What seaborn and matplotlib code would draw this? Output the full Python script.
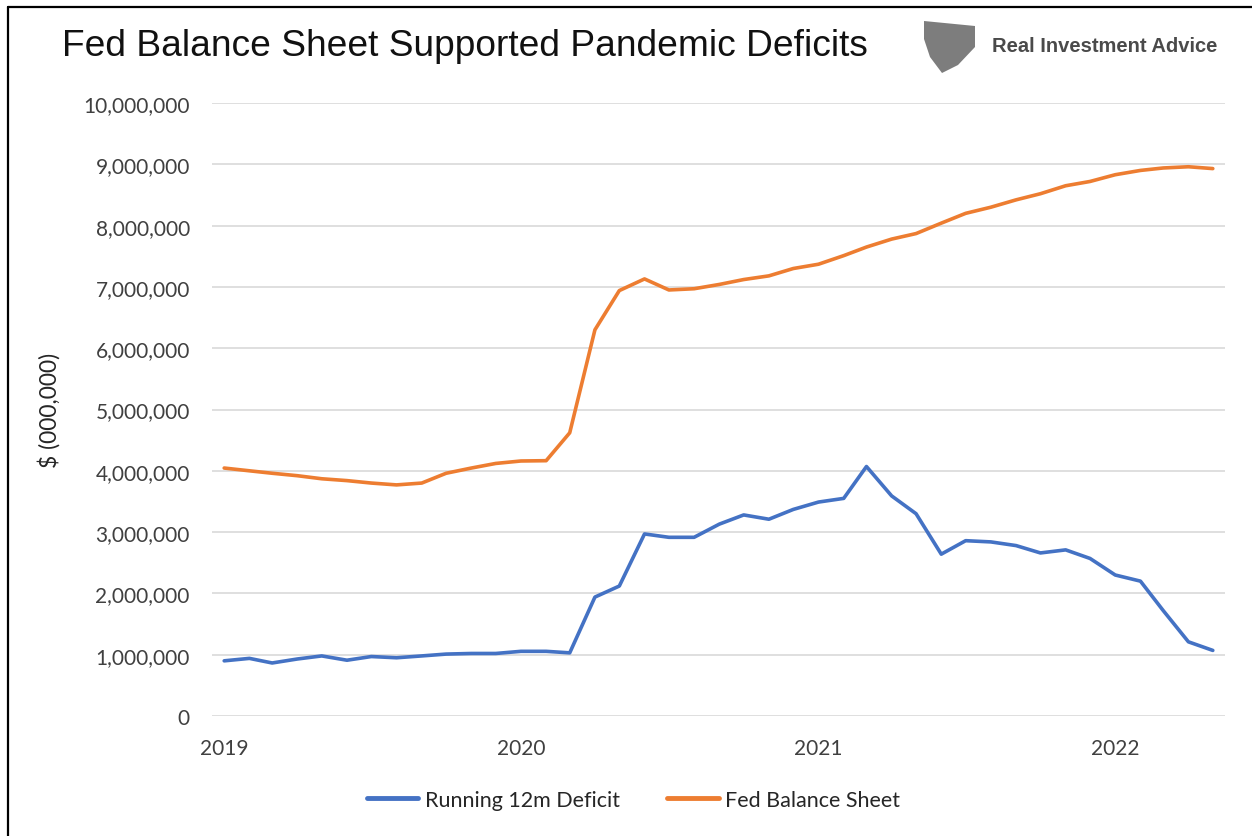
import numpy as np
import pandas as pd
import matplotlib.pyplot as plt
import matplotlib.ticker as mticker
import matplotlib.dates as mdates
from matplotlib.lines import Line2D
from matplotlib.patches import Polygon
import seaborn as sns

months = pd.date_range('2019-01-01', periods=41, freq='MS')

deficit = [0.90, 0.94, 0.865, 0.93, 0.98, 0.91, 0.97, 0.95, 0.98, 1.01, 1.02, 1.02,
           1.055, 1.055, 1.03, 1.94, 2.12, 2.97, 2.915, 2.915, 3.13, 3.28, 3.21, 3.37,
           3.49, 3.55, 4.07, 3.59, 3.30, 2.64, 2.86, 2.84, 2.78, 2.66, 2.71, 2.57,
           2.30, 2.20, 1.72, 1.21, 1.07]
balance = [4.045, 4.00, 3.96, 3.92, 3.87, 3.84, 3.80, 3.77, 3.80, 3.96, 4.045, 4.12,
           4.16, 4.165, 4.62, 6.30, 6.94, 7.13, 6.95, 6.97, 7.04, 7.12, 7.18, 7.30,
           7.37, 7.51, 7.65, 7.78, 7.87, 8.04, 8.20, 8.30, 8.42, 8.52, 8.65, 8.72,
           8.83, 8.90, 8.94, 8.96, 8.93]

series_names = ['Running 12m Deficit', 'Fed Balance Sheet']
colors = ['#4472C4', '#ED7D31']

df = pd.DataFrame({'date': months,
                   series_names[0]: np.array(deficit) * 1e6,
                   series_names[1]: np.array(balance) * 1e6})
long = df.melt(id_vars='date', var_name='series', value_name='value')

sns.set_style('white')
plt.rcParams['font.family'] = ['Lato', 'DejaVu Sans']

fig = plt.figure(figsize=(12.52, 8.37), dpi=100)
ax = fig.add_axes([212 / 1252, 1 - 717 / 837, (1225 - 212) / 1252, (717 - 104) / 837])

sns.lineplot(data=long, x='date', y='value', hue='series', palette=colors,
             linewidth=2.6, ax=ax, legend=False)

ax.set_ylim(0, 10_000_000)
ax.set_xlim(months[0] - pd.Timedelta(days=15), months[-1] + pd.Timedelta(days=15))
ax.yaxis.set_major_locator(mticker.MultipleLocator(1_000_000))
ax.yaxis.set_major_formatter(mticker.FuncFormatter(lambda v, p: f'{int(v):,}'))
ax.xaxis.set_major_locator(mdates.YearLocator())
ax.xaxis.set_major_formatter(mdates.DateFormatter('%Y'))
ax.grid(axis='y', color='#D9D9D9', linewidth=1.2)
ax.set_axisbelow(True)
for s in ax.spines.values():
    s.set_visible(False)
ax.tick_params(axis='y', length=0, pad=16, labelsize=15, labelcolor='#404040')
ax.tick_params(axis='x', length=0, pad=16, labelsize=15, labelcolor='#404040')
ax.set_xlabel('')
ax.set_ylabel('$ (000,000)', fontsize=16.5, color='#262626', labelpad=16)

handles = [Line2D([0], [0], color=c, linewidth=3.5) for c in colors]
fig.legend(handles, series_names, loc='center', bbox_to_anchor=(0.506, 0.043),
           ncol=2, frameon=False, fontsize=15.5, handlelength=2.4, handletextpad=0.3,
           columnspacing=2.2, labelcolor='#262626')

fig.text(62 / 1252, 1 - 47 / 837, 'Fed Balance Sheet Supported Pandemic Deficits',
         fontsize=26.7, family=['Liberation Sans', 'DejaVu Sans'], color='#111111',
         va='center', ha='left')

# logo: simple grey shield plus name
fig.patches.append(Polygon([[924 / 1252, 1 - 22 / 837], [975 / 1252, 1 - 27 / 837],
                            [975 / 1252, 1 - 48 / 837], [958 / 1252, 1 - 66 / 837],
                            [942 / 1252, 1 - 74 / 837], [930 / 1252, 1 - 58 / 837],
                            [924 / 1252, 1 - 40 / 837]],
                           closed=True, facecolor='#7d7d7d', edgecolor='none',
                           transform=fig.transFigure))
fig.text(992 / 1252, 1 - 47 / 837, 'Real Investment Advice', fontsize=14.5,
         fontweight='bold', family=['Liberation Sans', 'DejaVu Sans'], color='#4a4a4a',
         va='center', ha='left')

# screenshot frame on top and left
fig.add_artist(Line2D([8 / 1252, 8 / 1252], [0, 1 - 8 / 837], color='black', linewidth=1.6,
                      transform=fig.transFigure))
fig.add_artist(Line2D([8 / 1252, 1], [1 - 8 / 837, 1 - 8 / 837], color='black', linewidth=1.6,
                      transform=fig.transFigure))

fig.savefig('out.png', dpi=100)
plt.close(fig)
